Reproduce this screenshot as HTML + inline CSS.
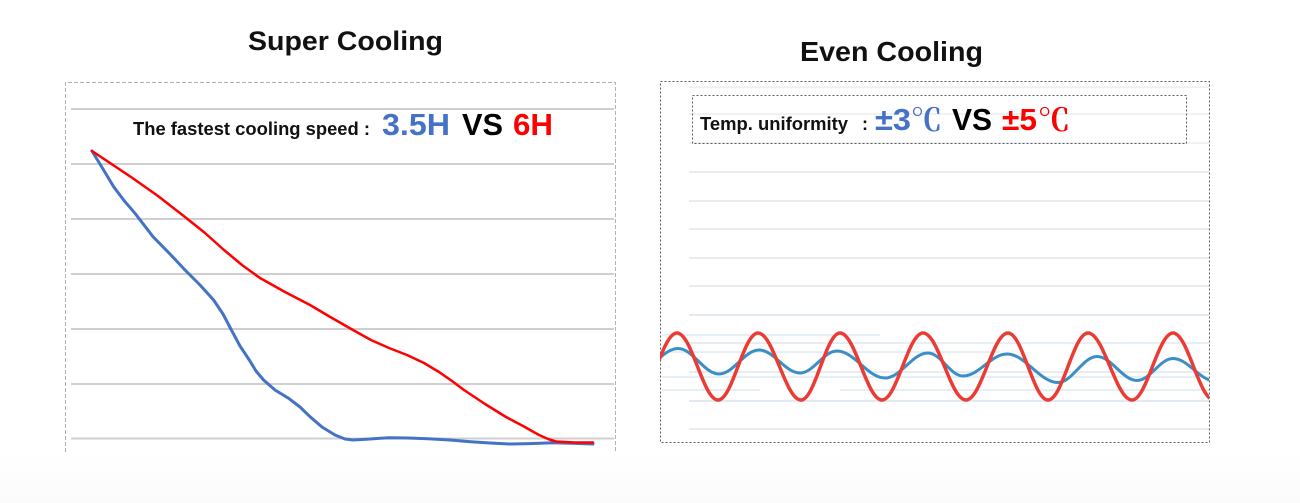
<!DOCTYPE html>
<html>
<head>
<meta charset="utf-8">
<style>
  html, body { margin:0; padding:0; background:#ffffff; }
  body { width:1300px; height:503px; overflow:hidden; }
  svg { display:block; }
  .t { font-family:"Liberation Sans", Arial, sans-serif; font-weight:bold; }
  .cjk { font-family:"Noto Serif CJK SC", "Noto Sans CJK SC", serif; font-weight:bold; }
</style>
</head>
<body>
<svg width="1300" height="503" viewBox="0 0 1300 503" xmlns="http://www.w3.org/2000/svg">
  <defs>
    <linearGradient id="bg" x1="0" y1="0" x2="0" y2="1">
      <stop offset="0" stop-color="#ffffff"/>
      <stop offset="0.9" stop-color="#ffffff"/>
      <stop offset="1" stop-color="#fbfbfb"/>
    </linearGradient>
    <clipPath id="rc"><rect x="660" y="300" width="549" height="140"/></clipPath>
  </defs>
  <rect x="0" y="0" width="1300" height="503" fill="url(#bg)"/>

  <!-- Titles -->
  <text class="t" x="248" y="50" font-size="27" fill="#111" textLength="195" lengthAdjust="spacingAndGlyphs">Super Cooling</text>
  <text class="t" x="800" y="61" font-size="28" fill="#111" textLength="183" lengthAdjust="spacingAndGlyphs">Even Cooling</text>

  <!-- LEFT PANEL -->
  <g stroke="#cfcfcf" stroke-width="2">
    <line x1="71" y1="109" x2="614" y2="109"/>
    <line x1="71" y1="164" x2="614" y2="164"/>
    <line x1="71" y1="219" x2="614" y2="219"/>
    <line x1="71" y1="274" x2="614" y2="274"/>
    <line x1="71" y1="329" x2="614" y2="329"/>
    <line x1="71" y1="384" x2="614" y2="384"/>
    <line x1="71" y1="438.5" x2="614" y2="438.5"/>
  </g>
  <path d="M65.5 452 V82.5 H615.5 V452" fill="none" stroke="#b0b0b0" stroke-width="1" stroke-dasharray="4 2"/>

  <text class="t" x="133" y="135" font-size="18" fill="#111" textLength="237" lengthAdjust="spacingAndGlyphs">The fastest cooling speed :</text>
  <text class="t" x="382" y="135" font-size="31" fill="#4472c4" textLength="68" lengthAdjust="spacingAndGlyphs">3.5H</text>
  <text class="t" x="462" y="135" font-size="31" fill="#000" textLength="41" lengthAdjust="spacingAndGlyphs">VS</text>
  <text class="t" x="513" y="135" font-size="31" fill="#ff0000" textLength="40" lengthAdjust="spacingAndGlyphs">6H</text>

  <polyline fill="none" stroke="#4472c4" stroke-width="3" stroke-linejoin="round" stroke-linecap="round"
    points="92,151 103,169 113.6,186.7 124,200.5 135,213.3 153,236.7 170,254 185,270 200,285 213.6,300 223,314 231.4,330 240,346 249.3,360 256,371 263.6,380 275,390 288.6,398.3 300,407 310,416.7 322,427 335,435 345,439 353,440 362,439.5 370,439 388.6,437.7 408,438 428,438.7 450,440 470.7,441.7 490,443 510,444 530,443.6 553,442.7 575,443.4 593,444"/>
  <polyline fill="none" stroke="#ff0000" stroke-width="2.5" stroke-linejoin="round" stroke-linecap="round"
    points="92,151 131,177 158,196 185,217 205,233 224,250 242,265 260,278 285,292 310,305 332,318 353,330 371,340 389,348 407,355 424,363 439,372 452,381 464,390 485,404 506,417 523,426 539,435 548,439 556,441.5 575,442.5 593,442.5"/>

  <!-- RIGHT PANEL -->
  <g stroke="#f0f1f3" stroke-width="2">
    <line x1="689" y1="87" x2="1209" y2="87"/>
    <line x1="689" y1="114" x2="1209" y2="114"/>
    <line x1="689" y1="143" x2="1209" y2="143"/>
  </g>
  <g stroke="#e8ecf0" stroke-width="2">
    <line x1="689" y1="172" x2="1209" y2="172"/>
    <line x1="689" y1="201" x2="1209" y2="201"/>
    <line x1="689" y1="229" x2="1209" y2="229"/>
    <line x1="689" y1="258" x2="1209" y2="258"/>
    <line x1="689" y1="286" x2="1209" y2="286"/>
    <line x1="689" y1="315" x2="1209" y2="315" stroke="#e2e9f0"/>
    <line x1="689" y1="343" x2="1209" y2="343"/>
    <line x1="689" y1="372" x2="1209" y2="372"/>
    <line x1="689" y1="401" x2="1209" y2="401" stroke="#e2e9f0"/>
    <line x1="689" y1="429" x2="1209" y2="429"/>
  </g>
  <!-- faint streaks -->
  <g stroke="#e6eff6" stroke-width="2">
    <line x1="662" y1="335" x2="880" y2="335"/>
    <line x1="662" y1="352" x2="1000" y2="352"/>
    <line x1="662" y1="377" x2="1209" y2="377"/>
    <line x1="662" y1="390" x2="760" y2="390"/>
    <line x1="840" y1="390" x2="1209" y2="390"/>
    <line x1="900" y1="343" x2="1209" y2="343"/>
  </g>

  <rect x="660.5" y="81.5" width="549" height="361" fill="none" stroke="#5a5a5a" stroke-width="1" stroke-dasharray="2 2"/>
  <rect x="692.5" y="95.5" width="494" height="48" fill="none" stroke="#5a5a5a" stroke-width="1" stroke-dasharray="2 2"/>

  <text class="t" x="700" y="130" font-size="18" fill="#111" textLength="148" lengthAdjust="spacingAndGlyphs">Temp. uniformity</text>
  <text class="t" x="862" y="130" font-size="18" fill="#111">:</text>
  <text class="t" x="875" y="130" font-size="31" fill="#4472c4" textLength="36" lengthAdjust="spacingAndGlyphs">±3</text>
  <text class="cjk" x="911" y="131" font-size="31" fill="#4472c4" textLength="31" lengthAdjust="spacingAndGlyphs">℃</text>
  <text class="t" x="952" y="130" font-size="31" fill="#000" textLength="40" lengthAdjust="spacingAndGlyphs">VS</text>
  <text class="t" x="1002" y="130" font-size="31" fill="#ff0000" textLength="35" lengthAdjust="spacingAndGlyphs">±5</text>
  <text class="cjk" x="1038" y="131" font-size="31" fill="#ff0000" textLength="32" lengthAdjust="spacingAndGlyphs">℃</text>

  <g clip-path="url(#rc)" fill="none" stroke-linecap="round">
    <path stroke="#3b8fc6" stroke-width="3"
      d="M636,372 C651.3,372 662.7,348.5 678,348.5 C692.9,348.5 704.1,374 719,374 C733.6,374 744.4,350 759,350 C773.9,350 785.1,373 800,373 C813.5,373 823.5,351 837,351 C854.5,351 867.5,378 885,378 C900.7,378 912.3,353 928,353 C940.7,353 950.3,376 963,376 C979,376 991,354 1007,354 C1025.6,354 1039.4,382.5 1058,382.5 C1072.2,382.5 1082.8,356.5 1097,356.5 C1111.6,356.5 1122.4,380.5 1137,380.5 C1150.1,380.5 1159.9,358.5 1173,358.5 C1188.3,358.5 1199.7,381 1215,381"/>
    <path stroke="#ec3b34" stroke-width="3.5"
      d="M636,400 C650.9,400 662.1,333 677,333 C691.9,333 703.1,400 718,400 C732.6,400 743.4,333 758,333 C773.7,333 785.3,400 801,400 C815.2,400 825.8,333 840,333 C855.3,333 866.7,400 882,400 C896.9,400 908.1,333 923,333 C938.7,333 950.3,400 966,400 C981.3,400 992.7,333 1008,333 C1022.6,333 1033.4,400 1048,400 C1062.6,400 1073.4,333 1088,333 C1104,333 1116,400 1132,400 C1146.9,400 1158.1,333 1173,333 C1187.9,333 1199.1,400 1214,400"/>
  </g>
</svg>
</body>
</html>
